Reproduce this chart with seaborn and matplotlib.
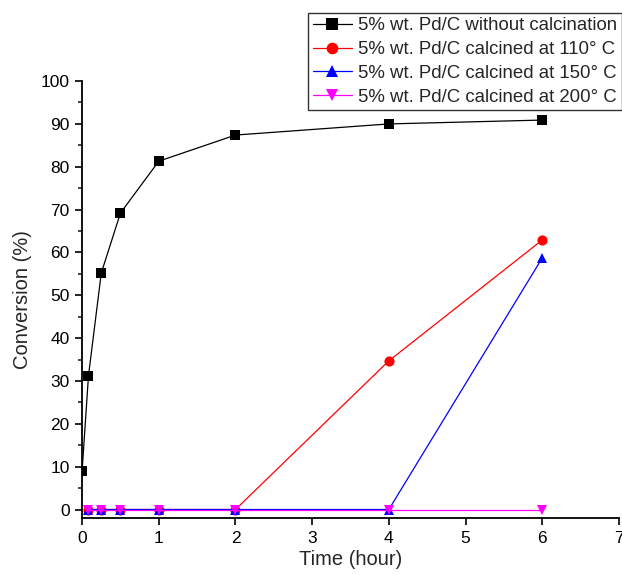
import matplotlib
matplotlib.use("Agg")
import matplotlib.pyplot as plt
import seaborn as sns
import pandas as pd
from matplotlib.ticker import MultipleLocator

time_black = [0, 0.083, 0.25, 0.5, 1, 2, 4, 6]
conv_black = [9, 31.2, 55.2, 69.2, 81.3, 87.4, 90.0, 90.9]
time_other = [0.083, 0.25, 0.5, 1, 2, 4, 6]
conv_110 = [0, 0, 0, 0, 0, 34.7, 62.9]
conv_150 = [0, 0, 0, 0, 0, 0, 58.7]
conv_200 = [0, 0, 0, 0, 0, 0, 0]

labels = ["5% wt. Pd/C without calcination",
          "5% wt. Pd/C calcined at 110° C",
          "5% wt. Pd/C calcined at 150° C",
          "5% wt. Pd/C calcined at 200° C"]
colors = ["black", "red", "blue", "magenta"]
markers = ["s", "o", "^", "v"]

rows = []
for t, c in zip(time_black, conv_black):
    rows.append((labels[0], t, c))
for series, lab in zip([conv_110, conv_150, conv_200], labels[1:]):
    for t, c in zip(time_other, series):
        rows.append((lab, t, c))
df = pd.DataFrame(rows, columns=["Sample", "Time", "Conversion"])

sns.set_style("ticks")
plt.rcParams["font.family"] = ["Liberation Sans", "DejaVu Sans"]

fig = plt.figure(figsize=(6.22, 5.75), dpi=100)
ax = fig.add_axes([0.132, 0.099, 0.863, 0.76])

sns.lineplot(data=df, x="Time", y="Conversion", hue="Sample", style="Sample",
             hue_order=labels, style_order=labels,
             palette=dict(zip(labels, colors)),
             markers=dict(zip(labels, markers)), dashes=False,
             markersize=7.3, markeredgewidth=0, linewidth=0.9, ax=ax)

ax.set_xlim(0, 7)
ax.set_ylim(-2, 100)
ax.xaxis.set_major_locator(MultipleLocator(1))
ax.yaxis.set_major_locator(MultipleLocator(10))
ax.yaxis.set_minor_locator(MultipleLocator(5))
ax.tick_params(axis="both", which="major", direction="out", length=5, width=1.2,
               labelsize=12.5, colors="black", pad=4)
ax.tick_params(axis="y", which="minor", direction="out", length=3, width=1.2)
for s in ["top", "right"]:
    ax.spines[s].set_visible(False)
for s in ["left", "bottom"]:
    ax.spines[s].set_linewidth(1.3)
    ax.spines[s].set_color("black")
ax.set_xlabel("Time (hour)", fontsize=14.5, labelpad=3)
ax.set_ylabel("Conversion (%)", fontsize=14.5, labelpad=6)

leg = ax.legend(loc="upper right", bbox_to_anchor=(1.0, 0.978),
                bbox_transform=fig.transFigure, fontsize=13.4,
                frameon=True, fancybox=False, handlelength=2.1,
                borderpad=0.25, labelspacing=0.36, handletextpad=0.35,
                borderaxespad=0.0, markerscale=1.15)
leg.get_frame().set_edgecolor("black")
leg.get_frame().set_linewidth(1.0)

fig.savefig("out.png", dpi=100)
